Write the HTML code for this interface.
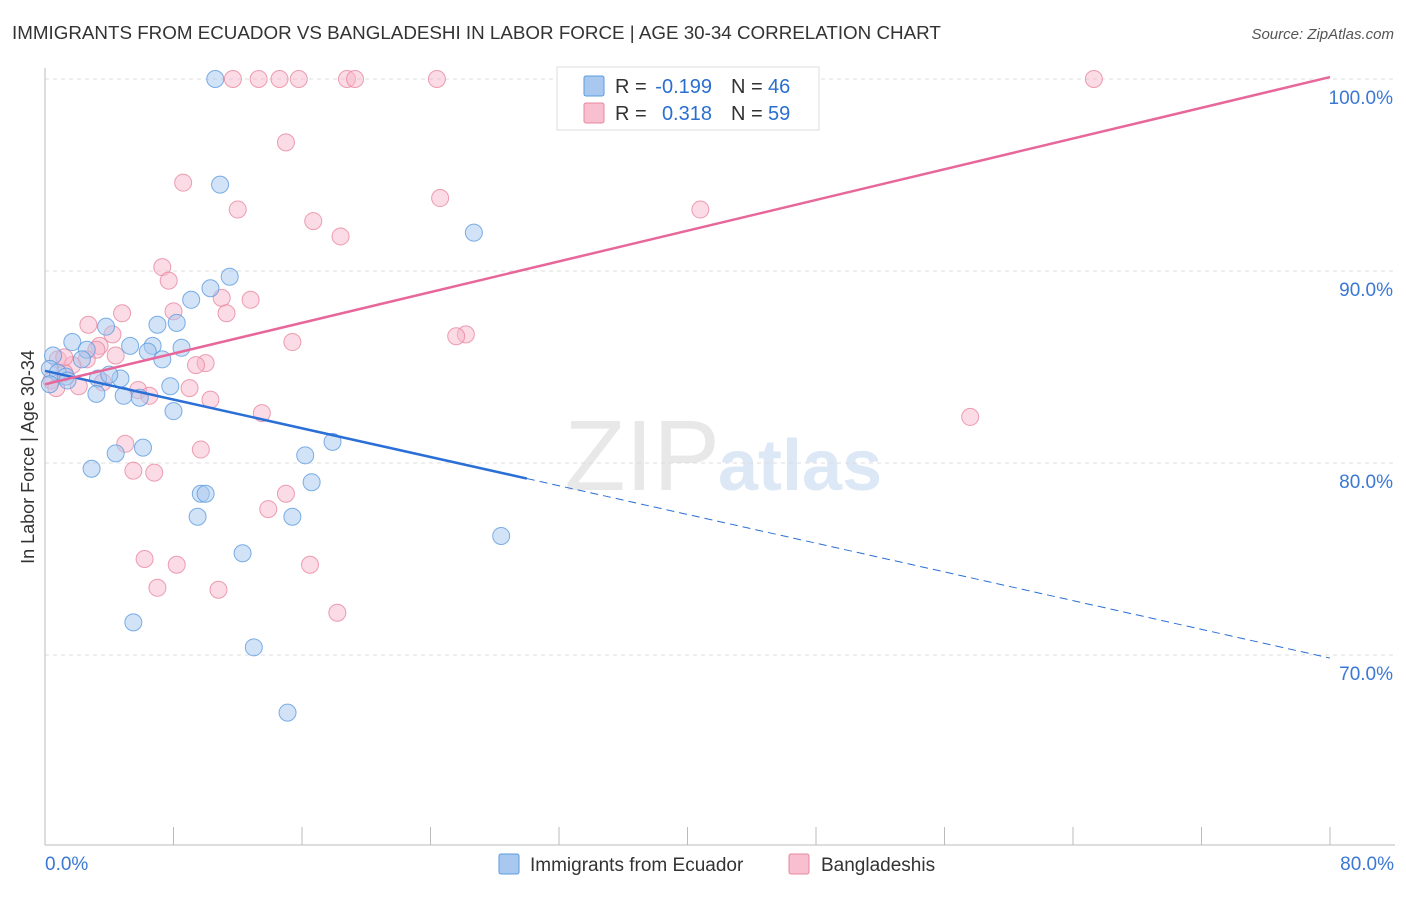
<!DOCTYPE html>
<html><head><meta charset="utf-8"><style>
body{margin:0;background:#fff;font-family:"Liberation Sans",sans-serif;}
svg text{font-family:"Liberation Sans",sans-serif;}
</style></head><body>
<svg id="c" width="1406" height="892">
<text x="12" y="39" font-size="18.8" fill="#333">IMMIGRANTS FROM ECUADOR VS BANGLADESHI IN LABOR FORCE | AGE 30-34 CORRELATION CHART</text>
<text x="1394" y="39" font-size="15" fill="#555" font-style="italic" text-anchor="end">Source: ZipAtlas.com</text>
<text x="720" y="490" font-size="100" fill="#e8e8e8" text-anchor="end" font-family="Liberation Serif">ZIP</text>
<text x="718" y="490" font-size="72" fill="#dce8f6" font-weight="bold">atlas</text>
<text transform="translate(34,457) rotate(-90)" font-size="18" fill="#333" text-anchor="middle">In Labor Force | Age 30-34</text>
<g id="grid"></g><g id="marks"></g>
<g>
<rect x="557" y="67" width="262" height="63" fill="#fff" stroke="#ddd"/>
<rect x="584" y="76" width="20" height="20" fill="#a8c8f0" stroke="#5b9be0" rx="2"/>
<rect x="584" y="103" width="20" height="20" fill="#f7bfd0" stroke="#e8879f" rx="2"/>
<text x="615" y="93" font-size="20" fill="#333">R =</text>
<text x="712" y="93" font-size="20" fill="#2a6fd0" text-anchor="end">-0.199</text>
<text x="731" y="93" font-size="20" fill="#333">N =</text>
<text x="768" y="93" font-size="20" fill="#2a6fd0">46</text>
<text x="615" y="120" font-size="20" fill="#333">R =</text>
<text x="712" y="120" font-size="20" fill="#2a6fd0" text-anchor="end">0.318</text>
<text x="731" y="120" font-size="20" fill="#333">N =</text>
<text x="768" y="120" font-size="20" fill="#2a6fd0">59</text>
</g>
<g>
<rect x="499" y="854" width="20" height="20" fill="#a8c8f0" stroke="#5b9be0" rx="2"/>
<text x="530" y="871" font-size="19" fill="#333">Immigrants from Ecuador</text>
<rect x="789" y="854" width="20" height="20" fill="#f7bfd0" stroke="#e8879f" rx="2"/>
<text x="821" y="871" font-size="19" fill="#333">Bangladeshis</text>
</g>
</svg>
<script>
const blueX=[10.6,10.9,26.7,11.5,10.3,9.1,8.2,7.0,3.8,1.7,5.3,6.7,2.6,8.5,6.4,7.3,2.3,0.5,0.3,0.8,1.3,1.4,3.3,4.7,4.0,0.3,3.2,4.9,5.9,7.8,8.0,17.9,6.1,4.4,16.2,2.9,16.6,9.7,10.0,9.5,15.4,12.3,28.4,5.5,13.0,15.1];
const blueY=[100,94.5,92.0,89.7,89.1,88.5,87.3,87.2,87.1,86.3,86.1,86.1,85.9,86.0,85.8,85.4,85.4,85.6,84.9,84.7,84.5,84.3,84.4,84.4,84.6,84.1,83.6,83.5,83.4,84.0,82.7,81.1,80.8,80.5,80.4,79.7,79.0,78.4,78.4,77.2,77.2,75.3,76.2,71.7,70.4,67.0];
const pinkX=[11.7,13.3,14.6,15.8,18.8,19.3,24.4,65.3,15.0,8.6,24.6,12.0,40.8,16.7,18.4,7.3,7.7,11.0,12.8,8.0,11.3,4.8,2.7,4.2,15.4,26.2,25.6,3.4,3.2,4.4,2.6,10.0,9.4,0.8,1.7,1.2,0.4,0.7,2.1,3.6,5.8,6.5,9.0,10.3,13.5,57.6,5.0,9.7,5.5,6.8,15.0,13.9,6.2,8.2,16.5,7.0,10.8,18.2,1.2];
const pinkY=[100,100,100,100,100,100,100,100,96.7,94.6,93.8,93.2,93.2,92.6,91.8,90.2,89.5,88.6,88.5,87.9,87.8,87.8,87.2,86.7,86.3,86.7,86.6,86.1,85.9,85.6,85.4,85.2,85.1,85.4,85.1,84.7,84.3,83.9,84.0,84.2,83.8,83.5,83.9,83.3,82.6,82.4,81.0,80.7,79.6,79.5,78.4,77.6,75.0,74.7,74.7,73.5,73.4,72.2,85.5];
const blueTrend=[84.8,69.84], blueSolidEnd=30.0;
const pinkTrend=[84.1,100.1];
const yTicks=[100,90,80,70];
const xTickVals=[0,8,16,24,32,40,48,56,64,72,80];
const xLabels=["0.0%","80.0%"];
const NS="http://www.w3.org/2000/svg";
const sx=v=>45+v*(1285/80), sy=v=>79+(100-v)*19.2;
function mk(t,a,p){const e=document.createElementNS(NS,t);for(const k in a)e.setAttribute(k,a[k]);p.appendChild(e);return e;}
const g=document.getElementById('grid'), m=document.getElementById('marks');
yTicks.forEach(v=>{
 const l=mk('line',{x1:45,x2:1395,y1:sy(v),y2:sy(v),stroke:'#ddd','stroke-dasharray':'4,4'},g);
 
 
 const t=mk('text',{x:1393,y:sy(v)+25,'font-size':19,fill:'#3a78d4','text-anchor':'end'},g);
 t.textContent=v.toFixed(1)+'%';
 
 
});
mk('line',{x1:45,x2:45,y1:68,y2:845,stroke:'#bbb'},g);
mk('line',{x1:45,x2:1395,y1:845,y2:845,stroke:'#bbb'},g);
xTickVals.forEach(v=>{const l=mk('line',{x1:sx(v),x2:sx(v),y1:827,y2:845,stroke:'#bbb'},g);
 
 });
[[0,xLabels[0],'start',45],[80,xLabels[1],'end',1394]].forEach(a=>{const t=mk('text',{x:a[3],y:870,'font-size':19,fill:'#3a78d4','text-anchor':a[2]},g);t.textContent=a[1];
 
 });
function pts(X,Y,fill,stroke,name){X.forEach((x,i)=>{const c=mk('circle',{cx:sx(x),cy:sy(Y[i]),r:8.5,fill:fill,'fill-opacity':0.5,stroke:stroke,'stroke-opacity':0.8,'stroke-width':1},m);
 
 });}
pts(pinkX,pinkY,'#f7b8cb','#e8879f','bangladeshi-point');
pts(blueX,blueY,'#a8c8f0','#5b9be0','ecuador-point');
const bAt=x=>blueTrend[0]+(blueTrend[1]-blueTrend[0])*x/80;
let l=mk('line',{x1:sx(0),y1:sy(bAt(0)),x2:sx(blueSolidEnd),y2:sy(bAt(blueSolidEnd)),stroke:'#2a6fd6','stroke-width':2.5},m);


l=mk('line',{x1:sx(blueSolidEnd),y1:sy(bAt(blueSolidEnd)),x2:sx(80),y2:sy(bAt(80)),stroke:'#2a6fd6','stroke-width':1,'stroke-dasharray':'8,5'},m);


l=mk('line',{x1:sx(0),y1:sy(pinkTrend[0]),x2:sx(80),y2:sy(pinkTrend[1]),stroke:'#e8679a','stroke-width':2.5},m);


</script>
</body></html>
